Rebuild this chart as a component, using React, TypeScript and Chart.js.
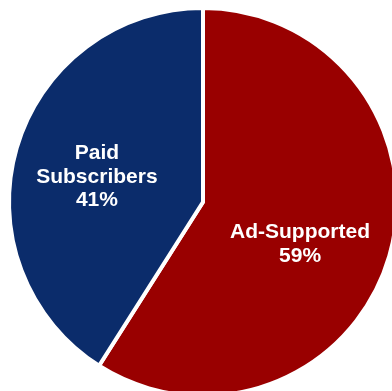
import React, { useEffect, useRef } from "react";
import { Chart, registerables } from "chart.js";

Chart.register(...registerables);

const categories = ["Ad-Supported", "Paid Subscribers"];
const labelLines = [["Ad-Supported"], ["Paid", "Subscribers"]];
const values = [59, 41];
const colors = ["#990000", "#0b2c6b"];
const labelAngleShift = [7.2, -2.9];
const labelRadius = [0.545, 0.562];

const labelPlugin = {
  id: "sliceLabels",
  afterDatasetsDraw(chart: any) {
    const ctx = chart.ctx;
    const meta = chart.getDatasetMeta(0);
    const total = values.reduce((a, b) => a + b, 0);
    ctx.save();
    ctx.fillStyle = "#ffffff";
    ctx.font = "bold 21px 'Liberation Sans', Arial, sans-serif";
    ctx.textAlign = "center";
    ctx.textBaseline = "middle";
    meta.data.forEach((arc: any, i: number) => {
      const { x, y, startAngle, endAngle, outerRadius } = arc.getProps(
        ["x", "y", "startAngle", "endAngle", "outerRadius"],
        true
      );
      const mid = (startAngle + endAngle) / 2 + (labelAngleShift[i] * Math.PI) / 180;
      const r = outerRadius * labelRadius[i];
      const cx = x + Math.cos(mid) * r;
      const cy = y + Math.sin(mid) * r;
      const lines = [...labelLines[i], Math.round((values[i] / total) * 100) + "%"];
      const lh = 23.5;
      const start = cy - ((lines.length - 1) * lh) / 2;
      lines.forEach((t, k) => ctx.fillText(t, cx, start + k * lh));
    });
    ctx.restore();
  },
};

export default function App() {
  const ref = useRef<HTMLCanvasElement | null>(null);
  useEffect(() => {
    if (!ref.current) return;
    const chart = new Chart(ref.current, {
      type: "pie",
      data: {
        labels: categories,
        datasets: [
          {
            data: values,
            backgroundColor: colors,
            borderColor: "#ffffff",
            borderWidth: 4,
          },
        ],
      },
      options: {
        responsive: false,
        animation: false,
        layout: { padding: { left: 7, top: 6, right: 21, bottom: 22 } },
        plugins: {
          legend: { display: false },
          tooltip: { enabled: false },
        },
      },
      plugins: [labelPlugin],
    });
    return () => chart.destroy();
  }, []);
  return (
    <div
      style={{
        position: "fixed",
        left: 0,
        top: 0,
        width: 392,
        height: 391,
        overflow: "hidden",
        background: "#ffffff",
      }}
    >
      <canvas ref={ref} width={420} height={420} style={{ display: "block" }} />
    </div>
  );
}
